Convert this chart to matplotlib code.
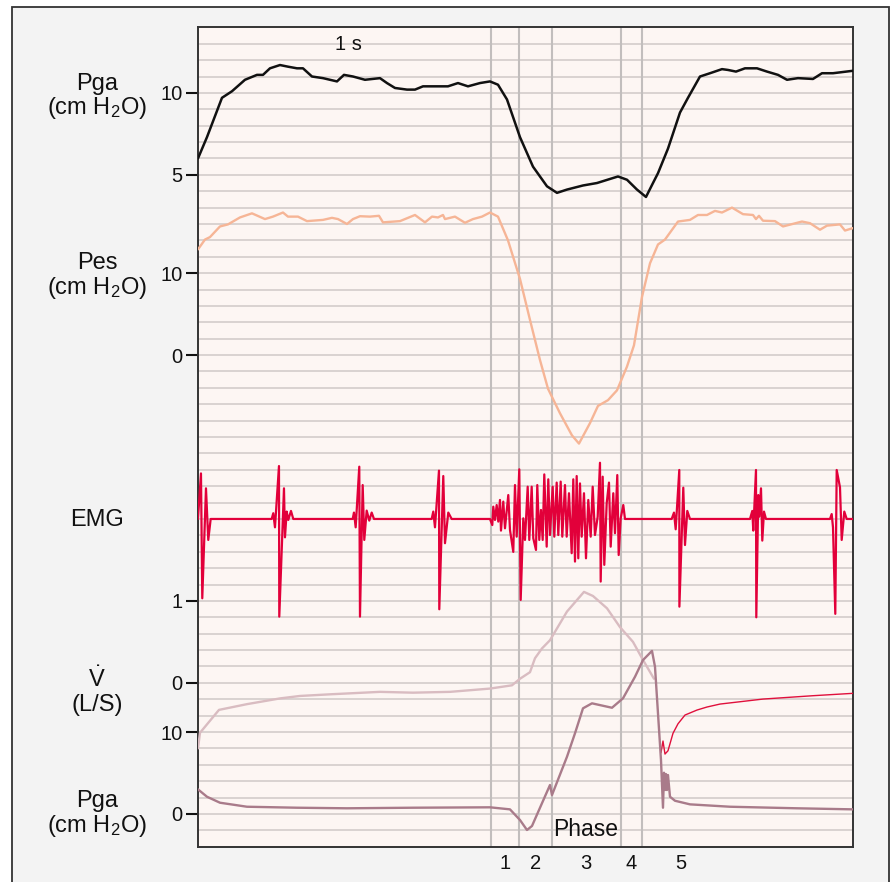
import matplotlib
matplotlib.use("Agg")
import matplotlib.pyplot as plt
from matplotlib.patches import Rectangle
import numpy as np

plt.rcParams['font.family'] = ['Liberation Sans', 'DejaVu Sans']
plt.rcParams['mathtext.fontset'] = 'custom'
plt.rcParams['mathtext.rm'] = 'Liberation Sans'
plt.rcParams['mathtext.it'] = 'Liberation Sans:italic'
plt.rcParams['lines.solid_joinstyle'] = 'round'
plt.rcParams['lines.solid_capstyle'] = 'round'

# time axis in seconds
t_end = 6.553

# gastric pressure, upper trace (cm H2O)
pga_t = [0.00, 0.09, 0.24, 0.34, 0.47, 0.59, 0.65, 0.72, 0.82, 0.90, 0.99, 1.05, 1.14, 1.25, 1.39, 1.46,
         1.55, 1.67, 1.82, 1.89, 1.97, 2.09, 2.17, 2.25, 2.39, 2.50, 2.60, 2.70, 2.82, 2.92, 3.00, 3.09,
         3.22, 3.35, 3.49, 3.59, 3.69, 3.85, 3.99, 4.20, 4.29, 4.39, 4.48, 4.55, 4.60, 4.70, 4.82, 4.90,
         5.02, 5.12, 5.24, 5.30, 5.38, 5.47, 5.59, 5.69, 5.80, 5.89, 6.00, 6.15, 6.24, 6.35, 6.55]
pga_v = [6.0, 7.3, 9.7, 10.1, 10.8, 11.1, 11.1, 11.5, 11.7, 11.6, 11.5, 11.5, 11.0, 10.9, 10.7, 11.1,
         11.0, 10.8, 10.9, 10.6, 10.3, 10.2, 10.2, 10.4, 10.4, 10.4, 10.6, 10.4, 10.6, 10.7, 10.5, 9.6,
         7.3, 5.5, 4.3, 3.9, 4.1, 4.35, 4.5, 4.9, 4.7, 4.1, 3.65, 4.5, 5.1, 6.6, 8.8, 9.7,
         11.0, 11.2, 11.45, 11.4, 11.3, 11.5, 11.5, 11.3, 11.1, 10.8, 10.9, 10.85, 11.2, 11.2, 11.35]

# esophageal pressure (cm H2O)
pes_t = [0.00, 0.07, 0.12, 0.22, 0.30, 0.42, 0.54, 0.67, 0.75, 0.85, 0.90, 1.00, 1.09, 1.25, 1.34, 1.40,
         1.49, 1.55, 1.62, 1.72, 1.81, 1.85, 2.02, 2.17, 2.27, 2.34, 2.40, 2.45, 2.47, 2.57, 2.67, 2.75,
         2.84, 2.92, 3.00, 3.10, 3.22, 3.32, 3.42, 3.50, 3.62, 3.74, 3.81, 3.92, 4.00, 4.10, 4.19, 4.29,
         4.36, 4.44, 4.52, 4.60, 4.67, 4.80, 4.92, 5.00, 5.09, 5.17, 5.24, 5.34, 5.45, 5.55, 5.58, 5.61,
         5.65, 5.77, 5.85, 6.04, 6.12, 6.22, 6.29, 6.42, 6.47, 6.55]
pes_v = [12.9, 14.1, 14.4, 15.7, 15.95, 16.8, 17.3, 16.6, 16.9, 17.4, 16.9, 16.9, 16.35, 16.5, 16.75, 16.6,
         16.0, 16.6, 16.95, 16.9, 17.0, 16.2, 16.35, 17.1, 16.2, 16.9, 16.8, 17.1, 16.6, 16.9, 16.15, 16.6,
         16.9, 17.4, 16.9, 14.0, 9.3, 4.3, -0.6, -4.1, -7.1, -9.8, -10.8, -8.3, -6.2, -5.5, -4.3, -1.4,
         1.2, 7.1, 11.2, 13.5, 14.1, 16.3, 16.5, 17.1, 17.1, 17.6, 17.4, 18.0, 17.2, 17.1, 16.6, 17.0,
         16.4, 16.35, 15.7, 16.3, 16.1, 15.3, 15.8, 15.95, 15.2, 15.5]

# diaphragm EMG (arbitrary units)
emg_t = [0.00, 0.03, 0.043, 0.08, 0.103, 0.127,
         0.737, 0.753, 0.770, 0.810, 0.813, 0.860, 0.870, 0.887, 0.903, 0.930, 0.953,
         1.547, 1.560, 1.577, 1.613, 1.620, 1.647, 1.663, 1.687, 1.713, 1.737, 1.760,
         2.337, 2.353, 2.370, 2.410, 2.413, 2.453, 2.470, 2.503, 2.537,
         2.920, 2.943, 2.953, 2.970, 2.987, 3.003, 3.020, 3.030, 3.053, 3.070, 3.103, 3.120, 3.153, 3.170,
         3.187, 3.213, 3.227, 3.253, 3.270, 3.297, 3.313, 3.337, 3.353, 3.380, 3.393, 3.413, 3.430, 3.447,
         3.463, 3.487, 3.503, 3.520, 3.547, 3.563, 3.587, 3.603, 3.627, 3.643, 3.670, 3.687, 3.710, 3.737,
         3.753, 3.770, 3.787, 3.803, 3.820, 3.837, 3.860, 3.880, 3.903, 3.927, 3.947, 3.970, 3.997, 4.020,
         4.027, 4.047, 4.063, 4.087, 4.110, 4.127, 4.153, 4.170, 4.193, 4.207, 4.227, 4.253, 4.270,
         4.737, 4.760, 4.777, 4.813, 4.814, 4.853, 4.870, 4.893, 4.920,
         5.520, 5.543, 5.553, 5.580, 5.583, 5.603, 5.613, 5.630, 5.643, 5.660, 5.680,
         6.320, 6.337, 6.350, 6.373, 6.387, 6.420, 6.437, 6.463, 6.487, 6.553]
emg_v = [0.0, 2.78, -4.84, 1.87, -1.28, 0.0,
         0.0, 0.35, -0.51, 3.23, -5.96, 1.87, -1.12, 0.45, -0.06, 0.49, 0.0,
         0.0, 0.39, -0.51, 3.19, -5.96, 2.07, -1.28, 0.51, -0.10, 0.39, 0.0,
         0.0, 0.45, -0.51, 2.95, -5.51, 2.62, -1.48, 0.39, 0.0,
         0.0, -0.37, 0.75, -0.06, 0.85, -0.16, 1.16, -0.71, 1.06, -0.57, 1.46, -0.67, -2.01, 2.07,
         -1.08, 3.03, -4.94, 0.04, -1.28, 1.97, -1.28, 1.97, -1.18, -1.89, 2.07, -1.28, 0.55, -1.28,
         2.72, -1.69, 2.42, -0.98, 1.97, -1.08, 2.22, -0.98, 2.28, -1.08, 2.07, -1.08, 1.57, -2.09,
         2.42, -2.60, 2.62, -2.40, 2.17, -1.08, 1.57, -2.40, 1.16, -1.08, 1.97, -0.98, 0.14, 3.43,
         -3.82, 2.58, -2.80, 0.96, 2.22, -1.69, 1.57, -0.87, 2.68, -2.20, 0.04, 0.85, 0.0,
         0.0, 0.39, -0.63, 2.99, -5.35, 1.91, -1.59, 0.49, 0.0,
         0.0, 0.49, -0.71, 2.99, -6.00, 1.46, 0.14, 1.87, -1.32, 0.45, 0.0,
         0.0, 0.30, -0.51, -5.79, 2.99, 1.93, -1.28, 0.45, 0.0, 0.0]

# flow (L/s)
flow_t = [0.00, 0.02, 0.21, 0.49, 0.82, 1.02, 1.32, 1.82, 2.15, 2.52, 2.92, 3.14, 3.22, 3.32, 3.37,
          3.44, 3.52, 3.69, 3.86, 3.95, 4.09, 4.22, 4.35, 4.45, 4.56]
flow_v = [-0.80, -0.61, -0.33, -0.26, -0.19, -0.16, -0.14, -0.11, -0.12, -0.11, -0.07, -0.03, 0.05, 0.13, 0.30,
          0.42, 0.52, 0.87, 1.11, 1.06, 0.91, 0.68, 0.50, 0.28, 0.05]

# gastric pressure, lower trace (cm H2O)
pga2_t = [0.00, 0.09, 0.22, 0.49, 0.99, 1.49, 2.15, 2.92, 3.12, 3.22, 3.29, 3.34, 3.52, 3.54, 3.69,
          3.77, 3.85, 3.94, 4.14, 4.25, 4.37, 4.45, 4.54, 4.57, 4.60, 4.63, 4.65, 4.66, 4.67, 4.68,
          4.69, 4.70, 4.72, 4.77, 4.92, 5.32, 5.99, 6.55]
pga2_v = [3.0, 2.1, 1.37, 0.88, 0.76, 0.69, 0.76, 0.81, 0.56, -0.74, -1.96, -1.47, 3.53, 2.31, 6.98,
          9.84, 12.89, 13.5, 12.96, 14.11, 16.74, 18.78, 19.9, 17.97, 12.28, 6.58, 0.76, 5.03, 2.92, 4.87,
          2.92, 4.75, 2.10, 1.61, 1.17, 0.88, 0.69, 0.56]

# thin red trace after phase 5 (same scale as lower Pga)
red_t = [4.63, 4.65, 4.67, 4.70, 4.75, 4.80, 4.87, 4.99, 5.09, 5.22, 5.65, 6.15, 6.55]
red_v = [7.47, 8.90, 7.31, 7.71, 9.84, 11.0, 12.07, 12.68, 13.05, 13.41, 14.02, 14.43, 14.72]

phase_edges = [2.927, 3.213, 3.537, 4.227, 4.437]
phase_names = ['1', '2', '3', '4', '5']
phase_label_t = [3.07, 3.375, 3.882, 4.332, 4.83]

tick_labels = ['10', '5', '10', '0', '1', '0', '10', '0']


# each channel sits on its own band of the shared grid (1 unit = 1 grid line)
def y_pga(v):
    return 36 + np.asarray(v) * 1.0

def y_pes(v):
    return 30 + np.asarray(v) / 2.0

def y_emg(v):
    return 20 + np.asarray(v)

def y_flow(v):
    return 10 + np.asarray(v) * 5.0

def y_pga2(v):
    return 2 + np.asarray(v) / 2.0


fig = plt.figure(figsize=(8.95, 8.82), dpi=100, facecolor='white')
fig.patches.append(Rectangle((0.0134, -0.02), 0.9799, 1.0117, transform=fig.transFigure,
                             facecolor='#f3f3f3', edgecolor='#333333', lw=1.3, zorder=-10))

ax = fig.add_axes([0.2212, 0.0400, 0.7322, 0.9290], zorder=5)
ax.set_facecolor('#fdf6f3')
ax.set_xlim(0, t_end)
ax.set_ylim(0, 50)

for g in range(1, 50):
    ax.axhline(g, color='#d3cdcb', lw=1.2, zorder=1)
for e in phase_edges:
    ax.axvline(e, color='#c2bebd', lw=1.5, zorder=2)

ax.plot(pga_t, y_pga(pga_v), color='#111111', lw=1.8, zorder=5)
ax.plot(pes_t, y_pes(pes_v), color='#f6b596', lw=1.7, zorder=5)
ax.plot(emg_t, y_emg(emg_v), color='#e2003a', lw=1.6, zorder=5)
ax.plot(flow_t, y_flow(flow_v), color='#d9bcc1', lw=1.7, zorder=5)
ax.plot(red_t, y_pga2(red_v), color='#e0103c', lw=1.0, zorder=5)
ax.plot(pga2_t, y_pga2(pga2_v), color='#a97b8a', lw=1.7, zorder=6)

ticks = [float(y_pga(10)), float(y_pga(5)), float(y_pes(10)), float(y_pes(0)),
         float(y_flow(1)), float(y_flow(0)), float(y_pga2(10)), float(y_pga2(0))]
ax.set_yticks(ticks)
ax.set_yticklabels(tick_labels)
ax.set_xticks([])
ax.tick_params(axis='y', direction='out', length=8.5, width=1.5, labelsize=14.5, pad=2.5, colors='#111111')
for s in ax.spines.values():
    s.set_color('#333333')
    s.set_linewidth(1.4)

# channel labels
lx = -0.1541
ytr = ax.get_yaxis_transform()
lab = dict(transform=ytr, ha='center', va='baseline', fontsize=17, color='#111111')
ax.text(lx, 46.17, 'Pga', **lab)
ax.text(lx, 44.69, '(cm H$_2$O)', **lab)
ax.text(lx, 35.23, 'Pes', **lab)
ax.text(lx, 33.75, '(cm H$_2$O)', **lab)
ax.text(lx, 19.6, 'EMG', **lab)
ax.text(lx, 9.76, r'$\dot{\mathrm{V}}$', **lab)
ax.text(lx, 8.30, '(L/S)', **lab)
ax.text(lx, 2.44, 'Pga', **lab)
ax.text(lx, 0.92, '(cm H$_2$O)', **lab)

ax.text(1.505, 48.6, '1 s', ha='center', va='baseline', fontsize=14.5, color='#111111')
ax.text(3.88, 0.66, 'Phase', ha='center', va='baseline', fontsize=16.5, color='#111111', zorder=7)

xtr = ax.get_xaxis_transform()
for name, tx in zip(phase_names, phase_label_t):
    ax.text(tx, -0.0276, name, transform=xtr, ha='center', va='baseline', fontsize=14.5, color='#111111')

fig.savefig('out.png', dpi=100)
